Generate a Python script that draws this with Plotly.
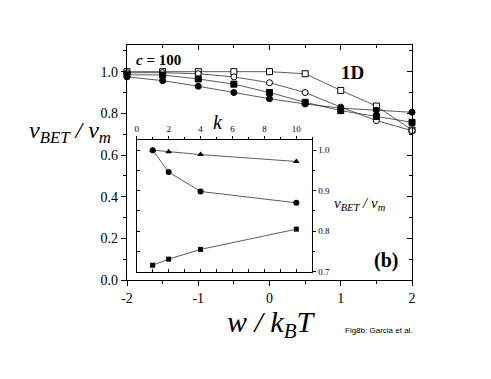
import plotly.graph_objects as go

# main panel: v_BET/v_m against w/kBT, c = 100, 1D
w = [-2, -1.5, -1, -0.5, 0, 0.5, 1, 1.5, 2]
open_sq = [1.0, 1.0, 1.0, 1.0, 1.0, 0.99, 0.91, 0.835, 0.72]
open_circ = [0.995, 0.995, 0.99, 0.975, 0.947, 0.90, 0.83, 0.765, 0.717]
filled_sq = [0.985, 0.984, 0.965, 0.94, 0.90, 0.853, 0.813, 0.785, 0.757]
filled_circ = [0.975, 0.957, 0.93, 0.90, 0.87, 0.845, 0.825, 0.815, 0.805]
w_ticks = [-2, -1, 0, 1, 2]
w_labels = ["-2", "-1", "0", "1", "2"]

# inset: v_BET/v_m against k
k = [1, 2, 4, 10]
inset_tri = [1.0, 0.996, 0.989, 0.972]
inset_circ = [1.0, 0.946, 0.898, 0.870]
inset_sq = [0.716, 0.731, 0.755, 0.805]

SERIF = "Liberation Serif"
OFF = 8  # page body margin
W, H = 491 - 2 * OFF, 379 - 2 * OFF
L, R, T, B = 127, 412, 45, 280  # main plot box, page pixels


def px(x):
    return (x - L) / (R - L)


def py(y):
    return (B - y) / (B - T)


fig = go.Figure()

line = dict(color="#333", width=0.8)
main_series = [
    (open_sq, "square", "white"),
    (open_circ, "circle", "white"),
    (filled_sq, "square", "black"),
    (filled_circ, "circle", "black"),
]
for vals, sym, fill in main_series:
    fig.add_trace(go.Scatter(
        x=w, y=vals, mode="lines+markers", line=line,
        marker=dict(symbol=sym, size=6, color=fill, line=dict(color="black", width=1)),
        cliponaxis=False, showlegend=False,
    ))

inset_series = [
    (inset_tri, "triangle-up", 6),
    (inset_circ, "circle", 6),
    (inset_sq, "square", 5),
]
for vals, sym, size in inset_series:
    fig.add_trace(go.Scatter(
        x=k, y=vals, mode="lines+markers", line=line,
        marker=dict(symbol=sym, size=size, color="black"),
        xaxis="x2", yaxis="y2", cliponaxis=False, showlegend=False,
    ))

# dummy traces so the mirror axes get drawn
fig.add_trace(go.Scatter(x=[None], y=[None], xaxis="x3", yaxis="y3", showlegend=False))
fig.add_trace(go.Scatter(x=[None], y=[None], xaxis="x4", yaxis="y4", showlegend=False))

tickfont = dict(family=SERIF, size=14, color="black")
smallfont = dict(family=SERIF, size=9, color="black")
ax_common = dict(showline=True, linecolor="black", linewidth=1.2, showgrid=False,
                 zeroline=False, tickcolor="black")

ix0, ix1 = px(136.7), px(312.3)
iy0, iy1 = py(271.7), py(140)

fig.update_layout(
    width=W, height=H,
    margin=dict(l=L - OFF, r=W - (R - OFF), t=T - OFF, b=H - (B - OFF)),
    paper_bgcolor="white", plot_bgcolor="white",
    xaxis=dict(**ax_common, range=[-2, 2], tickvals=w_ticks, ticktext=w_labels,
               ticks="outside", ticklen=5, tickfont=tickfont,
               minor=dict(dtick=0.5, ticks="outside", ticklen=3)),
    yaxis=dict(**ax_common, range=[0, 1.128], dtick=0.2, tickformat=".1f",
               ticks="outside", ticklen=5, tickfont=tickfont,
               minor=dict(dtick=0.1, ticks="outside", ticklen=3)),
    xaxis3=dict(**ax_common, range=[-2, 2], overlaying="x", side="top", dtick=1,
                ticks="inside", ticklen=5, showticklabels=False,
                minor=dict(dtick=0.5, ticks="inside", ticklen=3)),
    yaxis3=dict(**ax_common, range=[0, 1.128], overlaying="y", side="right", dtick=0.2,
                ticks="inside", ticklen=5, showticklabels=False,
                minor=dict(dtick=0.1, ticks="inside", ticklen=3)),
    xaxis2=dict(**ax_common, domain=[ix0, ix1], anchor="y2", side="top", range=[0, 11],
                dtick=2, ticks="outside", ticklen=3, tickfont=smallfont,
                minor=dict(dtick=1, ticks="outside", ticklen=2)),
    yaxis2=dict(**ax_common, domain=[iy0, iy1], anchor="x2", side="right",
                range=[0.7, 1.025], dtick=0.1, tickformat=".1f", ticks="outside",
                ticklen=3, tickfont=smallfont,
                minor=dict(dtick=0.05, ticks="outside", ticklen=2)),
    xaxis4=dict(**ax_common, domain=[ix0, ix1], anchor="y4", overlaying="x2",
                side="bottom", range=[0, 11], dtick=1, ticks="inside", ticklen=3,
                showticklabels=False),
    yaxis4=dict(**ax_common, domain=[iy0, iy1], anchor="x4", overlaying="y2",
                side="left", range=[0.7, 1.025], dtick=0.05, ticks="inside",
                ticklen=3, showticklabels=False),
)


def note(x, y, text, size, family=SERIF, anchor="center"):
    fig.add_annotation(x=px(x), y=py(y), xref="paper", yref="paper", text=text,
                       showarrow=False, xanchor=anchor, yanchor="middle",
                       font=dict(family=family, size=size, color="black"))


note(134, 60, "<b><i>c</i> = 100</b>", 15, anchor="left")
note(352, 72, "<b>1D</b>", 19)
note(386, 260, "<b>(b)</b>", 20)
note(218, 122, "<i>k</i>", 20)
note(70, 132, "<i>v</i><sub><i>BET</i></sub><i> / v</i><sub><i>m</i></sub>", 24)
note(360, 204, "<i>v</i><sub><i>BET</i></sub><i> / v</i><sub><i>m</i></sub>", 15)
note(271, 324, "<i>w / k</i><sub><i>B</i></sub><i>T</i>", 30)
note(379, 330, "Fig8b: Garcia et al.", 8, family="Liberation Sans")

fig.write_html("out.html")
